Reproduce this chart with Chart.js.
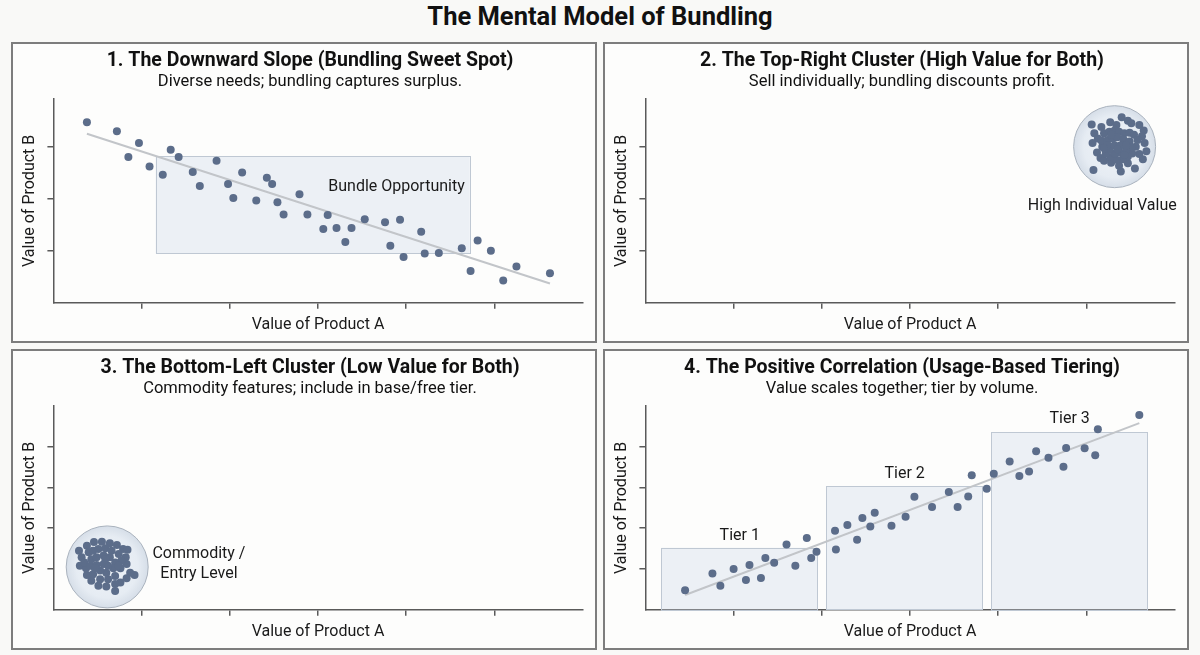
<!DOCTYPE html>
<html>
<head>
<meta charset="utf-8">
<script src="https://cdn.jsdelivr.net/npm/chart.js@4.4.1/dist/chart.umd.min.js"></script>
<style>
  body { margin: 0; background: #f9f9f7; font-family: Roboto, "Noto Sans", sans-serif; }
  #page { position: relative; width: 1200px; height: 655px; overflow: hidden; }
  #mainTitle { position: absolute; left: 0; top: 0; width: 1200px; text-align: center;
    font: bold 25.5px Roboto, sans-serif; line-height: 33px; color: #111; }
  .panel { position: absolute; width: 586px; height: 301px; box-sizing: border-box;
    border: 2px solid #7d7d7d; background: #fdfdfc; }
  .panel canvas { display: block; }
</style>
</head>
<body>
<div id="page">
  <div id="mainTitle">The Mental Model of Bundling</div>
  <div class="panel" style="left:11px;top:42px"><canvas id="p1" width="582" height="297"></canvas></div>
  <div class="panel" style="left:603px;top:42px"><canvas id="p2" width="582" height="297"></canvas></div>
  <div class="panel" style="left:11px;top:349px"><canvas id="p3" width="582" height="297"></canvas></div>
  <div class="panel" style="left:603px;top:349px"><canvas id="p4" width="582" height="297"></canvas></div>
</div>
<script>
// 1. downward slope
const slopeA = [0.38,0.72,0.97,0.85,1.09,1.33,1.42,1.24,1.58,1.66,1.85,1.98,2.04,2.14,2.30,2.42,2.48,2.54,2.61,2.79,2.88,3.11,3.06,3.21,3.38,3.31,3.53,3.76,3.93,3.82,4.17,3.97,4.21,4.37,4.63,4.81,4.96,4.73,5.25,5.10,5.63]
const slopeB = [3.48,3.31,3.08,2.81,2.63,2.95,2.81,2.47,2.52,2.25,2.74,2.29,2.02,2.51,1.97,2.41,2.29,1.94,1.70,2.09,1.70,1.69,1.42,1.44,1.44,1.17,1.61,1.55,1.60,1.10,1.37,0.88,0.95,0.96,1.05,1.20,1.00,0.61,0.70,0.43,0.57]
const slopeTrendA = [0.38, 5.63]
const slopeTrendB = [3.26, 0.37]
const bundleBoxA = [1.16, 4.72]
const bundleBoxB = [0.95, 2.83]

// 2. top-right cluster
const highA = [5.06,5.09,5.17,5.27,5.34,5.40,5.47,5.51,5.60,5.65,5.63,5.66,5.68,5.60,5.64,5.12,5.16,5.20,5.28,5.37,5.47,5.55,5.08,5.39,5.07,5.13,5.20,5.26,5.32,5.37,5.43,5.49,5.54,5.58,5.56,5.52,5.47,5.41,5.34,5.27,5.22,5.18,5.17,5.24,5.30,5.35,5.42,5.49,5.51,5.45,5.38,5.32,5.26,5.24,5.32,5.39,5.45,5.35,5.28,5.43,5.20]
const highB = [3.44,3.27,3.39,3.48,3.43,3.58,3.51,3.46,3.43,3.32,3.21,3.08,2.92,2.87,2.77,2.90,2.79,2.74,2.70,2.64,2.69,2.59,2.56,2.53,3.08,3.17,3.27,3.30,3.32,3.30,3.27,3.28,3.24,3.14,3.01,2.88,2.82,2.77,2.76,2.81,2.88,3.01,3.13,3.14,3.17,3.19,3.15,3.11,3.00,2.95,2.90,2.88,2.96,3.04,3.04,3.04,3.04,2.96,3.24,2.85,2.98]
const highCenter = [5.32, 3.01]

// 3. bottom-left cluster
const lowA = [0.29,0.32,0.30,0.38,0.46,0.55,0.64,0.72,0.79,0.84,0.82,0.83,0.92,0.87,0.83,0.76,0.70,0.60,0.51,0.43,0.38,0.37,0.70,0.35,0.40,0.45,0.51,0.59,0.66,0.74,0.77,0.76,0.70,0.62,0.53,0.45,0.42,0.43,0.49,0.57,0.64,0.70,0.68,0.60,0.53,0.49,0.57,0.62,0.59,0.74,0.47]
const lowB = [1.45,1.29,1.08,1.57,1.66,1.67,1.63,1.59,1.49,1.47,1.29,1.12,0.85,0.91,0.77,0.67,0.63,0.57,0.59,0.71,0.85,1.02,0.46,1.16,1.41,1.45,1.49,1.51,1.45,1.37,1.20,1.02,0.83,0.75,0.75,0.87,1.08,1.24,1.29,1.33,1.29,1.16,1.02,0.91,0.96,1.10,1.12,1.08,1.24,1.08,1.02]
const lowCenter = [0.61, 1.05]

// 4. positive correlation
const tierA = [0.45,0.76,0.85,1.00,1.14,1.18,1.31,1.36,1.46,1.60,1.70,1.83,1.88,1.94,2.15,2.16,2.29,2.40,2.46,2.55,2.60,2.79,2.95,3.05,3.25,3.44,3.54,3.66,3.70,3.87,3.95,4.13,4.24,4.35,4.43,4.57,4.74,4.77,4.98,5.10,5.13,5.60]
const tierB = [0.48,0.89,0.59,1.00,0.73,1.10,0.78,1.27,1.15,1.60,1.08,1.76,1.27,1.42,1.94,1.48,2.08,1.72,2.25,2.04,2.38,2.06,2.28,2.77,2.52,2.89,2.52,2.78,3.30,2.97,3.34,3.64,3.28,3.39,3.89,3.73,3.51,3.97,3.96,3.79,4.43,4.78]
const tierTrendA = [0.45, 5.60]
const tierTrendB = [0.36, 4.58]
const tierNames = ['Tier 1', 'Tier 2', 'Tier 3']
const tierStart = [0.18, 2.05, 3.92]
const tierEnd = [1.95, 3.82, 5.69]
const tierTop = [1.52, 3.03, 4.36]
const tierLabelA = [1.07, 2.94, 4.81]
const tierLabelB = [1.82, 3.33, 4.68]

const dotColor = '#5c6d8a'
const toXY = (a, b) => a.map((v, i) => ({ x: v, y: b[i] }))

// panel headings, boxes and text labels (labels/boxes in data units)
const annot = {
  id: 'annot',
  beforeDatasetsDraw(chart, args, opts) {
    const { ctx, scales: { x, y } } = chart
    ;(opts.boxes || []).forEach(b => {
      const l = x.getPixelForValue(b.x0), r = x.getPixelForValue(b.x1)
      const t = y.getPixelForValue(b.y1), bt = y.getPixelForValue(b.y0)
      ctx.save()
      ctx.fillStyle = 'rgba(214,224,237,0.45)'
      ctx.strokeStyle = '#bfc8d3'
      ctx.lineWidth = 1
      ctx.fillRect(l, t, r - l, bt - t)
      ctx.strokeRect(Math.round(l) + 0.5, Math.round(t) + 0.5, Math.round(r - l), Math.round(bt - t))
      ctx.restore()
    })
  },
  afterDatasetsDraw(chart, args, opts) {
    const { ctx, scales: { x, y } } = chart
    ;(opts.labels || []).forEach(lb => {
      ctx.save()
      ctx.font = '16px Roboto'
      ctx.fillStyle = '#1a1a1a'
      ctx.textAlign = 'center'
      ctx.textBaseline = 'middle'
      const px = x.getPixelForValue(lb.x), py = y.getPixelForValue(lb.y)
      lb.text.forEach((line, i) => ctx.fillText(line, px, py + (i - (lb.text.length - 1) / 2) * 20))
      ctx.restore()
    })
  },
  afterDraw(chart, args, opts) {
    const ctx = chart.ctx
    const cx = chart.width / 2 + 6
    ctx.save()
    ctx.fillStyle = '#111'
    ctx.textAlign = 'center'
    ctx.textBaseline = 'middle'
    ctx.font = 'bold 19.5px Roboto'
    ctx.fillText(opts.heading, cx, 17)
    ctx.font = '16.5px Roboto'
    ctx.fillText(opts.sub, cx, 38)
    ctx.restore()
  }
}

function dots(a, b) {
  return { data: toXY(a, b), pointRadius: 4, pointBackgroundColor: dotColor, pointBorderWidth: 0, order: 1 }
}
function trend(a, b) {
  return { data: toXY(a, b), showLine: true, borderColor: '#c2c5c9', borderWidth: 2, pointRadius: 0, order: 2 }
}
function halo(c) {
  return {
    data: [{ x: c[0], y: c[1] }], pointRadius: 41, pointBorderWidth: 1, pointBorderColor: '#a9b2bd', order: 3,
    pointBackgroundColor: (ctx) => {
      const ch = ctx.chart
      const sx = ch.scales.x, sy = ch.scales.y
      const px = sx ? sx.getPixelForValue(c[0]) : NaN, py = sy ? sy.getPixelForValue(c[1]) : NaN
      if (!isFinite(px) || !isFinite(py)) return '#e4eaf2'
      const g = ch.ctx.createRadialGradient(px, py, 0, px, py, 41)
      g.addColorStop(0, '#eff3f8')
      g.addColorStop(0.75, '#e6ecf3')
      g.addColorStop(1, '#d6dee8')
      return g
    }
  }
}

function panel(id, heading, sub, datasets, yMax, boxes, labels) {
  new Chart(document.getElementById(id), {
    type: 'scatter',
    data: { datasets },
    plugins: [annot],
    options: {
      responsive: false,
      animation: false,
      events: [],
      layout: { autoPadding: false, padding: { left: 0, right: 12.4, top: 55, bottom: 0 } },
      plugins: {
        legend: { display: false },
        tooltip: { enabled: false },
        annot: { heading, sub, boxes, labels }
      },
      scales: {
        x: {
          type: 'linear', min: 0, max: 6,
          ticks: { display: false, stepSize: 1 },
          grid: { drawOnChartArea: false, drawTicks: true, tickLength: 6, color: '#5a5a5a', lineWidth: 1.5 },
          border: { display: true, color: '#5a5a5a', width: 1.5 },
          title: { display: true, text: 'Value of Product A', color: '#1a1a1a', font: { family: 'Roboto', size: 16 }, padding: { top: 0, bottom: 6.4 } },
          afterBuildTicks: (s) => { s.ticks = s.ticks.filter(t => t.value > s.min && t.value < s.max) },
          afterFit: (s) => { s.height = 38.3 }
        },
        y: {
          type: 'linear', min: 0, max: yMax,
          ticks: { display: false, stepSize: 1 },
          grid: { drawOnChartArea: false, drawTicks: true, tickLength: 6, color: '#5a5a5a', lineWidth: 1.5 },
          border: { display: true, color: '#5a5a5a', width: 1.5 },
          title: { display: true, text: 'Value of Product B', color: '#1a1a1a', font: { family: 'Roboto', size: 16 }, padding: { top: 7.4, bottom: 0 } },
          afterBuildTicks: (s) => { s.ticks = s.ticks.filter(t => t.value > s.min && t.value < s.max) },
          afterFit: (s) => { s.width = 40.4 }
        }
      }
    }
  })
}

panel('p1', '1. The Downward Slope (Bundling Sweet Spot)', 'Diverse needs; bundling captures surplus.',
  [dots(slopeA, slopeB), trend(slopeTrendA, slopeTrendB)], 3.93,
  [{ x0: bundleBoxA[0], x1: bundleBoxA[1], y0: bundleBoxB[0], y1: bundleBoxB[1] }],
  [{ text: ['Bundle Opportunity'], x: 3.89, y: 2.23 }])

panel('p2', '2. The Top-Right Cluster (High Value for Both)', 'Sell individually; bundling discounts profit.',
  [dots(highA, highB), halo(highCenter)], 3.93, [],
  [{ text: ['High Individual Value'], x: 5.18, y: 1.87 }])

panel('p3', '3. The Bottom-Left Cluster (Low Value for Both)', 'Commodity features; include in base/free tier.',
  [dots(lowA, lowB), halo(lowCenter)], 5, [],
  [{ text: ['Commodity /', 'Entry Level'], x: 1.65, y: 1.13 }])

panel('p4', '4. The Positive Correlation (Usage-Based Tiering)', 'Value scales together; tier by volume.',
  [dots(tierA, tierB), trend(tierTrendA, tierTrendB)], 5,
  tierNames.map((n, i) => ({ x0: tierStart[i], x1: tierEnd[i], y0: 0, y1: tierTop[i] })),
  tierNames.map((n, i) => ({ text: [n], x: tierLabelA[i], y: tierLabelB[i] })))
</script>
</body>
</html>
